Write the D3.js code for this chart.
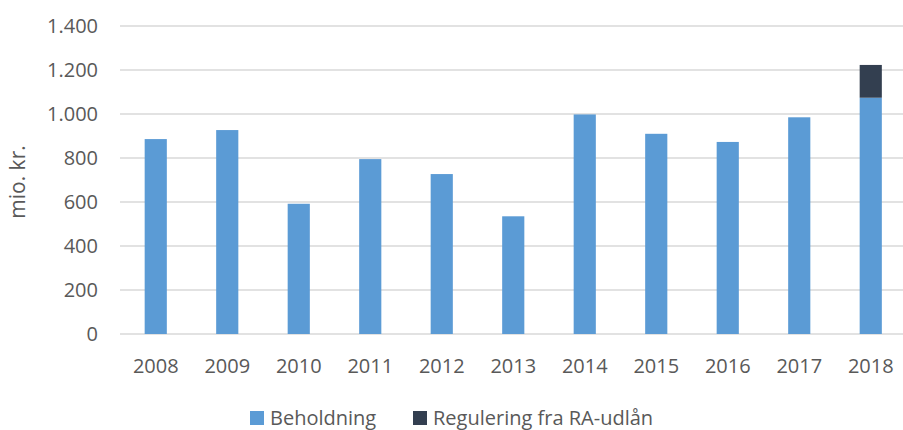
<!DOCTYPE html>
<html>
<head>
<meta charset="utf-8">
<script src="https://cdn.jsdelivr.net/npm/d3@7"></script>
<style>
  body { margin: 0; background: #fff; }
  text { font-family: "Open Sans", sans-serif; fill: #595959; }
</style>
</head>
<body>
<script>
// chart data
var years = ["2008", "2009", "2010", "2011", "2012", "2013", "2014", "2015", "2016", "2017", "2018"];
var beholdning = [886, 927, 592, 795, 727, 535, 998, 910, 873, 985, 1074];
var regulering = [0, 0, 0, 0, 0, 0, 0, 0, 0, 0, 149];
var yTicks = [0, 200, 400, 600, 800, 1000, 1200, 1400];
var seriesNames = ["Beholdning", "Regulering fra RA-udlån"];
var colors = ["#5b9bd5", "#333f50"];

var width = 903,
    height = 430;

var svg = d3.select("body").append("svg")
    .attr("width", width)
    .attr("height", height);

// x band scale, bars centred in each slot
var x = d3.scaleBand()
    .domain(years)
    .range([120, 906.5])
    .paddingInner(0.69)
    .paddingOuter(0.345);

var y = d3.scaleLinear()
    .domain([0, 1400])
    .range([334, 26]);

// grid lines
svg.append("g").selectAll("line")
    .data(yTicks)
  .enter().append("line")
    .attr("x1", 120)
    .attr("x2", 906)
    .attr("y1", function(d){ return y(d); })
    .attr("y2", function(d){ return y(d); })
    .attr("stroke", "#d9d9d9")
    .attr("stroke-width", 1.5);

// y tick labels
svg.append("g").selectAll("text")
    .data(yTicks)
  .enter().append("text")
    .attr("x", 98)
    .attr("y", function(d){ return y(d); })
    .attr("dy", "0.35em")
    .attr("text-anchor", "end")
    .style("font-size", "20px")
    .text(function(d){ return d3.format(",")(d).replace(/,/g, "."); });

// y axis title
svg.append("text")
    .attr("transform", "translate(25,182) rotate(-90)")
    .attr("text-anchor", "middle")
    .style("font-size", "21px")
    .text("mio. kr.");

// stacked bars
var stackData = years.map(function(yr, i){
    return { year: yr, b: beholdning[i], r: regulering[i] };
});
var stack = d3.stack().keys(["b", "r"]);
var layers = stack(stackData);

svg.append("g").selectAll("g")
    .data(layers)
  .enter().append("g")
    .attr("fill", function(d, i){ return colors[i]; })
  .selectAll("rect")
    .data(function(d){ return d; })
  .enter().append("rect")
    .attr("x", function(d){ return x(d.data.year); })
    .attr("width", x.bandwidth())
    .attr("y", function(d){ return y(d[1]); })
    .attr("height", function(d){ return y(d[0]) - y(d[1]); });

// x labels
svg.append("g").selectAll("text")
    .data(years)
  .enter().append("text")
    .attr("x", function(d){ return x(d) + x.bandwidth() / 2; })
    .attr("y", 366)
    .attr("dy", "0.35em")
    .attr("text-anchor", "middle")
    .style("font-size", "20px")
    .text(function(d){ return d; });

// legend
var legendX = [250, 413];
var legend = svg.append("g").selectAll("g")
    .data(seriesNames)
  .enter().append("g")
    .attr("transform", function(d, i){ return "translate(" + legendX[i] + ",411)"; });
legend.append("rect")
    .attr("width", 14)
    .attr("height", 14)
    .attr("fill", function(d, i){ return colors[i]; });
legend.append("text")
    .attr("x", 20)
    .attr("y", 7)
    .attr("dy", "0.35em")
    .style("font-size", "20px")
    .text(function(d){ return d; });
</script>
</body>
</html>
